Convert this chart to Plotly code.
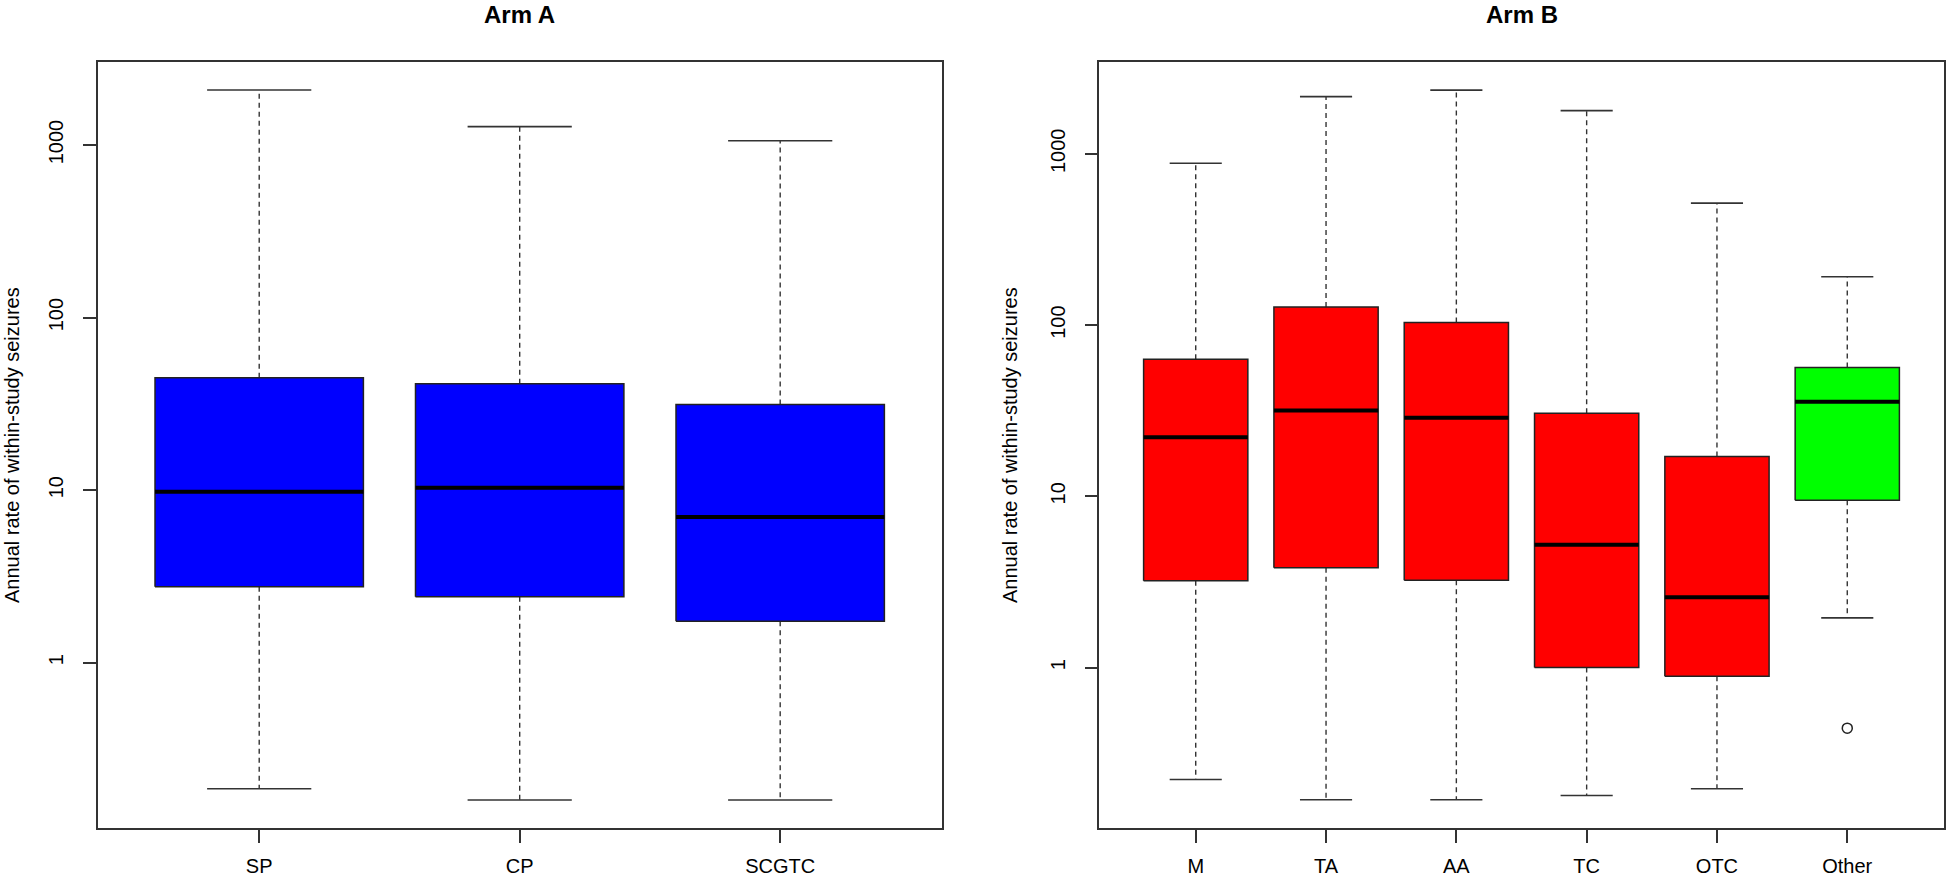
import plotly.graph_objects as go

# ---------------- data ----------------
arm_a_cats = ["SP", "CP", "SCGTC"]
arm_a_lower = [0.186, 0.160, 0.160]
arm_a_q1 = [2.75, 2.41, 1.74]
arm_a_median = [9.79, 10.33, 6.99]
arm_a_q3 = [44.8, 41.4, 31.3]
arm_a_upper = [2083, 1278, 1059]
arm_a_colors = ["#0000FF", "#0000FF", "#0000FF"]

arm_b_cats = ["M", "TA", "AA", "TC", "OTC", "Other"]
arm_b_lower = [0.222, 0.169, 0.169, 0.179, 0.196, 1.95]
arm_b_q1 = [3.21, 3.83, 3.24, 1.0, 0.89, 9.5]
arm_b_median = [22.1, 31.7, 28.8, 5.21, 2.57, 35.7]
arm_b_q3 = [63.2, 127.3, 103.6, 30.6, 17.1, 56.6]
arm_b_upper = [881, 2158, 2355, 1788, 515, 191.6]
arm_b_colors = ["#FF0000", "#FF0000", "#FF0000", "#FF0000", "#FF0000", "#00FF00"]
arm_b_outlier_cat = ["Other"]
arm_b_outlier_val = [0.443]

y_tick_vals = [1, 10, 100, 1000]
y_tick_text = ["1", "10", "100", "1000"]

titles = ["Arm A", "Arm B"]
y_title = "Annual rate of within-study seizures"

# ---------------- layout constants ----------------
W, H = 1946, 877
LINE = "#333333"
FONT = "Arial, Liberation Sans, sans-serif"
HALF_BOX = 0.4
HALF_CAP = 0.2

fig = go.Figure()


def add_panel(cats, lower, q1, med, q3, upper, colors, xa, ya):
    # whiskers (dashed)
    wx, wy = [], []
    cx, cy = [], []
    for i in range(len(cats)):
        p = i + 1
        wx += [p, p, None, p, p, None]
        wy += [q3[i], upper[i], None, q1[i], lower[i], None]
        cx += [p - HALF_CAP, p + HALF_CAP, None, p - HALF_CAP, p + HALF_CAP, None]
        cy += [upper[i], upper[i], None, lower[i], lower[i], None]
    fig.add_trace(go.Scatter(x=wx, y=wy, mode="lines", xaxis=xa, yaxis=ya,
                             line=dict(color=LINE, width=1.4, dash="5px,4px"),
                             hoverinfo="skip", showlegend=False))
    fig.add_trace(go.Scatter(x=cx, y=cy, mode="lines", xaxis=xa, yaxis=ya,
                             line=dict(color=LINE, width=1.6),
                             hoverinfo="skip", showlegend=False))
    # boxes
    for i in range(len(cats)):
        p = i + 1
        fig.add_trace(go.Scatter(
            x=[p - HALF_BOX, p + HALF_BOX, p + HALF_BOX, p - HALF_BOX, p - HALF_BOX],
            y=[q1[i], q1[i], q3[i], q3[i], q1[i]],
            mode="lines", fill="toself", fillcolor=colors[i],
            line=dict(color="#222222", width=1.5), xaxis=xa, yaxis=ya,
            hoverinfo="skip", showlegend=False))
    # medians
    mx, my = [], []
    for i in range(len(cats)):
        p = i + 1
        mx += [p - HALF_BOX, p + HALF_BOX, None]
        my += [med[i], med[i], None]
    fig.add_trace(go.Scatter(x=mx, y=my, mode="lines", xaxis=xa, yaxis=ya,
                             line=dict(color="black", width=4),
                             hoverinfo="skip", showlegend=False))


add_panel(arm_a_cats, arm_a_lower, arm_a_q1, arm_a_median, arm_a_q3, arm_a_upper,
          arm_a_colors, "x", "y")
add_panel(arm_b_cats, arm_b_lower, arm_b_q1, arm_b_median, arm_b_q3, arm_b_upper,
          arm_b_colors, "x2", "y2")

# outliers
fig.add_trace(go.Scatter(
    x=[arm_b_cats.index(c) + 1 for c in arm_b_outlier_cat], y=arm_b_outlier_val,
    mode="markers", xaxis="x2", yaxis="y2",
    marker=dict(symbol="circle-open", size=10, color="#222222", line=dict(width=1.5)),
    hoverinfo="skip", showlegend=False))

# domains in pixels
left_dom = [97.7 / W, 941.7 / W]
right_dom = [1099.3 / W, 1943.7 / W]
y_dom = [1 - 828.3 / H, 1 - 61.7 / H]

common_x = dict(showline=True, mirror=True, linecolor=LINE, linewidth=1.5,
                ticks="outside", ticklen=13, tickwidth=1.5, tickcolor=LINE,
                showgrid=False, zeroline=False, ticklabelstandoff=6, automargin=False,
                tickfont=dict(family=FONT, size=20, color="black"))
common_y = dict(type="log", showline=True, mirror=True, linecolor=LINE, linewidth=1.5,
                ticks="outside", ticklen=13, tickwidth=1.5, tickcolor=LINE,
                showgrid=False, zeroline=False, tickangle=-90, automargin=False,
                tickvals=y_tick_vals, ticktext=y_tick_text, ticklabelstandoff=12,
                tickfont=dict(family=FONT, size=20, color="black"))

fig.update_layout(
    width=W, height=H,
    margin=dict(l=0, r=0, t=0, b=0, autoexpand=False),
    paper_bgcolor="white", plot_bgcolor="white",
    showlegend=False,
    xaxis=dict(domain=left_dom, range=[0.38, 3.62],
               tickvals=[1, 2, 3], ticktext=arm_a_cats, anchor="y", **common_x),
    yaxis=dict(domain=y_dom, range=[-0.960, 3.483], anchor="x", **common_y),
    xaxis2=dict(domain=right_dom, range=[0.26, 6.74],
                tickvals=[1, 2, 3, 4, 5, 6], ticktext=arm_b_cats, anchor="y2", **common_x),
    yaxis2=dict(domain=y_dom, range=[-0.9385, 3.5378], anchor="x2", **common_y),
)

annotations = []
for t, xc in zip(titles, [(97.7 + 941.7) / 2, (1099.3 + 1943.7) / 2]):
    annotations.append(dict(text="<b>" + t + "</b>", x=xc / W, y=1.0,
                            xref="paper", yref="paper", xanchor="center", yanchor="top",
                            borderpad=0, showarrow=False,
                            font=dict(family=FONT, size=24, color="black")))
for xc, anchor in [(0, "left"), (1010, "center")]:
    annotations.append(dict(text=y_title, x=xc / W, y=1 - 445 / H, textangle=-90,
                            xref="paper", yref="paper", xanchor=anchor, yanchor="middle",
                            borderpad=0, showarrow=False,
                            font=dict(family=FONT, size=20, color="black")))
fig.update_layout(annotations=annotations)

fig.write_html(
    "out.html",
    config={"displayModeBar": False},
    post_script="document.body.style.margin='0';document.body.style.padding='0';"
                "document.documentElement.style.overflow='hidden';",
)
